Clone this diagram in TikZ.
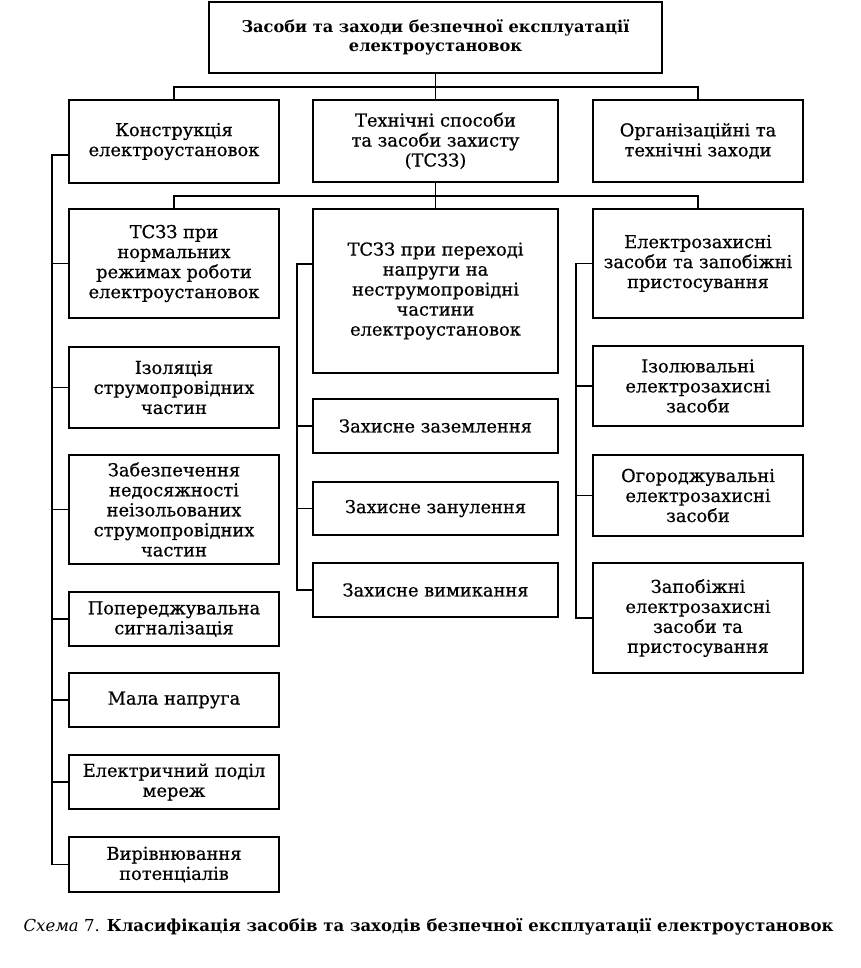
\documentclass[tikz,border=0pt]{standalone}
\usepackage{fontspec}
\setmainfont{DejaVu Serif}[FakeBold=0.6]
\newfontfamily\capfont{DejaVu Serif}
\begin{document}
\begin{tikzpicture}[x=1pt,y=-1pt,
  box/.style={draw,line width=2pt,rectangle,align=center,inner sep=0pt,
    font=\fontsize{17.8}{20}\selectfont},
  lw/.style={minimum width=210},
  mw/.style={minimum width=245},
  conn/.style={line width=1.6pt}]
\useasboundingbox (0,0) rectangle (860,968);
% level 1
\node[box,minimum width=453,minimum height=71,font=\capfont\fontsize{16.2}{19}\selectfont\bfseries] (top) at (435.5,37.5)
  {Засоби та заходи безпечної експлуатації\\електроустановок};
% level 2
\node[box,lw,minimum height=83] (k) at (174,141.5) {Конструкція\\електроустановок};
\node[box,mw,minimum height=82] (t) at (435.5,141) {Технічні способи\\та засоби захисту\\(ТСЗЗ)};
\node[box,lw,minimum height=82] (o) at (698,141) {Організаційні та\\технічні заходи};
% left column
\node[box,lw,minimum height=109] (n1) at (174,263.5) {ТСЗЗ при\\нормальних\\режимах роботи\\електроустановок};
\node[box,lw,minimum height=81] (n2) at (174,387.5) {Ізоляція\\струмопровідних\\частин};
\node[box,lw,minimum height=109] (n3) at (174,509.5) {Забезпечення\\недосяжності\\неізольованих\\струмопровідних\\частин};
\node[box,lw,minimum height=54] (n4) at (174,619) {Попереджувальна\\сигналізація};
\node[box,lw,minimum height=54] (n5) at (174,700) {Мала напруга};
\node[box,lw,minimum height=54] (n6) at (174,782) {Електричний поділ\\мереж};
\node[box,lw,minimum height=55] (n7) at (174,864.5) {Вирівнювання\\потенціалів};
% middle column
\node[box,mw,minimum height=164] (p1) at (435.5,291) {ТСЗЗ при переході\\напруги на\\неструмопровідні\\частини\\електроустановок};
\node[box,mw,minimum height=54] (p2) at (435.5,426) {Захисне заземлення};
\node[box,mw,minimum height=53] (p3) at (435.5,508.5) {Захисне занулення};
\node[box,mw,minimum height=54] (p4) at (435.5,590) {Захисне вимикання};
% right column
\node[box,lw,minimum height=109] (e1) at (698,263.5) {Електрозахисні\\засоби та запобіжні\\пристосування};
\node[box,lw,minimum height=80] (e2) at (698,386) {Ізолювальні\\електрозахисні\\засоби};
\node[box,lw,minimum height=81] (e3) at (698,495.5) {Огороджувальні\\електрозахисні\\засоби};
\node[box,lw,minimum height=110] (e4) at (698,618) {Запобіжні\\електрозахисні\\засоби та\\пристосування};
% caption
\node[anchor=base,inner sep=0pt,font=\capfont\fontsize{16.5}{19}\selectfont] (cap) at (428.5,931)
  {\textit{Схема}~7. \textbf{Класифікація засобів та заходів безпечної експлуатації електроустановок}};
% buses
\coordinate (b1) at (435.5,87);
\coordinate (b2) at (435.5,196);
\draw[conn] (top.south) -- (t.north);
\draw[conn] (k.north) |- (b1) -| (o.north);
\draw[conn] (t.south) -- (p1.north);
\draw[conn] (n1.north) |- (b2) -| (e1.north);
% left spine
\coordinate (Lx) at (52,0);
\coordinate (ktap) at ([yshift=-13.5pt]k.west);
\draw[conn] (ktap) -- (ktap -| Lx) |- (n7.west);
\foreach \n in {n1,n2,n3,n4,n5,n6} \draw[conn] (\n.west) -- (\n.west -| Lx);
% middle spine
\coordinate (Mx) at (297,0);
\coordinate (ptap) at ([yshift=27pt]p1.west);
\draw[conn] (ptap) -- (ptap -| Mx) |- (p4.west);
\foreach \n in {p2,p3} \draw[conn] (\n.west) -- (\n.west -| Mx);
% right spine
\coordinate (Rx) at (576,0);
\draw[conn] (e1.west) -- (e1.west -| Rx) |- (e4.west);
\foreach \n in {e2,e3} \draw[conn] (\n.west) -- (\n.west -| Rx);
\end{tikzpicture}
\end{document}
